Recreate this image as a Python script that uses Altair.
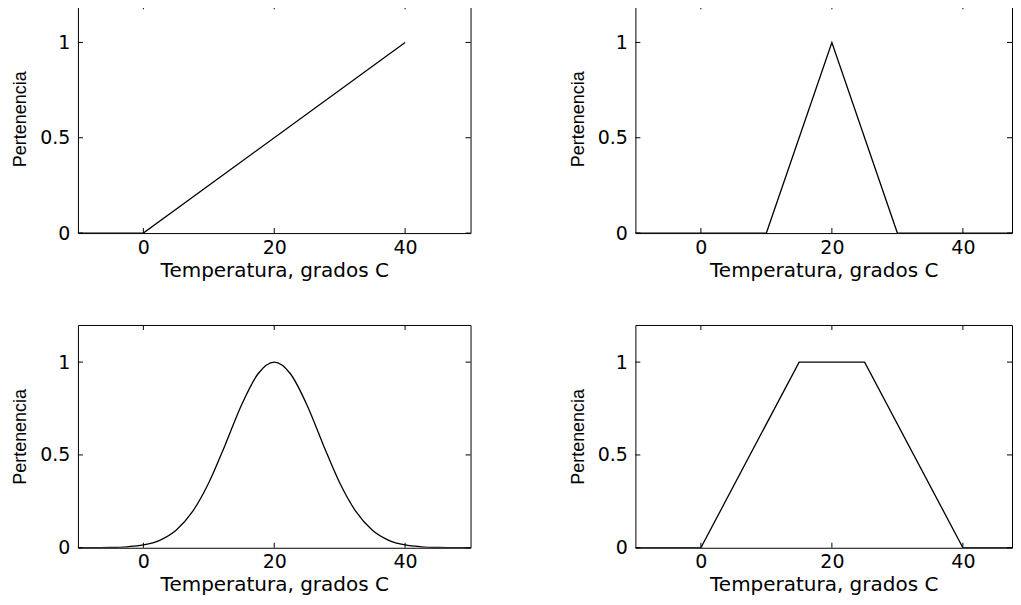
import altair as alt
import pandas as pd

# ---- data ----
XTICKS = [0, 20, 40]
YTICKS = [0, 0.5, 1]

# top-left: ramp
ramp_t = [-10, 0, 40]
ramp_m = [0, 0, 1]

# top-right: triangle
tri_t = [-10, 10, 20, 30, 50]
tri_m = [0, 0, 1, 0, 0]

# bottom-left: bell curve
bell_t = [-10, -7.5, -5, -2.5, 0, 2.5, 5, 7.5, 10, 12.5, 15, 17.5, 20,
          22.5, 25, 27.5, 30, 32.5, 35, 37.5, 40, 42.5, 45, 47.5, 50]
bell_m = [0.0001, 0.0004, 0.0014, 0.005, 0.015, 0.040, 0.094, 0.194, 0.350,
          0.554, 0.769, 0.936, 1.0, 0.936, 0.769, 0.554, 0.350, 0.194, 0.094,
          0.040, 0.015, 0.005, 0.0014, 0.0004, 0.0001]

# bottom-right: trapezoid
trap_t = [-10, 0, 15, 25, 40, 50]
trap_m = [0, 0, 1, 1, 0, 0]

XTITLE = "Temperatura, grados C"
YTITLE = "Pertenencia"

# left column shows -10..50; right column is cut at the page edge in the reference
LEFT_DOMAIN = [-10, 50]
RIGHT_DOMAIN = [-10, 47.5]
W_LEFT = 393
W_RIGHT = 377
H_TOP = 229
H_BOTTOM = 223
TICK = 5
FONT = "DejaVu Sans"


def panel(ts, ms, width, height, xdomain, interp="linear"):
    df = pd.DataFrame({"t": ts, "m": ms})
    xscale = alt.Scale(domain=xdomain, nice=False, zero=False)
    yscale = alt.Scale(domain=[0, 1.2], nice=False)
    line = alt.Chart(df).mark_line(color="black", strokeWidth=1.3,
                                   interpolate=interp, clip=True).encode(
        x=alt.X("t:Q", scale=xscale,
                axis=alt.Axis(values=XTICKS, title=XTITLE, grid=False,
                              domain=False, ticks=False, labelPadding=5,
                              labelFont=FONT, labelFontSize=19,
                              labelColor="black", titleFont=FONT,
                              titleFontSize=20, titleFontWeight="normal",
                              titleColor="black", titlePadding=3)),
        y=alt.Y("m:Q", scale=yscale,
                axis=alt.Axis(values=YTICKS, title=YTITLE, grid=False,
                              domain=False, ticks=False, format="~g",
                              labelPadding=8, labelFont=FONT,
                              labelFontSize=19, labelColor="black",
                              titleFont="Liberation Sans",
                              titleFontSize=18, titleFontWeight="normal",
                              titleColor="black", titlePadding=10)),
    )
    xt = pd.DataFrame({"t": XTICKS})
    yt = pd.DataFrame({"m": YTICKS})
    xb = alt.Chart(xt).mark_rule(color="black", strokeWidth=1).encode(
        x=alt.X("t:Q", scale=xscale), y=alt.value(height),
        y2=alt.value(height - TICK))
    xtop = alt.Chart(xt).mark_rule(color="black", strokeWidth=1).encode(
        x=alt.X("t:Q", scale=xscale), y=alt.value(0), y2=alt.value(TICK))
    yl = alt.Chart(yt).mark_rule(color="black", strokeWidth=1).encode(
        y=alt.Y("m:Q", scale=yscale), x=alt.value(0), x2=alt.value(TICK))
    yr = alt.Chart(yt).mark_rule(color="black", strokeWidth=1).encode(
        y=alt.Y("m:Q", scale=yscale), x=alt.value(width - TICK),
        x2=alt.value(width))
    return alt.layer(line, xb, xtop, yl, yr).properties(width=width,
                                                         height=height)


top = alt.hconcat(
    panel(ramp_t, ramp_m, W_LEFT, H_TOP, LEFT_DOMAIN),
    panel(tri_t, tri_m, W_RIGHT, H_TOP, RIGHT_DOMAIN),
    spacing=97)
bottom = alt.hconcat(
    panel(bell_t, bell_m, W_LEFT, H_BOTTOM, LEFT_DOMAIN, "monotone"),
    panel(trap_t, trap_m, W_RIGHT, H_BOTTOM, RIGHT_DOMAIN),
    spacing=97)

chart = alt.vconcat(top, bottom, spacing=43).properties(
    padding={"left": 3, "top": -5, "right": 0, "bottom": 0},
    background="white",
).configure_view(stroke="black", strokeWidth=1)

chart.save("out.html", embed_options={"renderer": "svg", "actions": False})
